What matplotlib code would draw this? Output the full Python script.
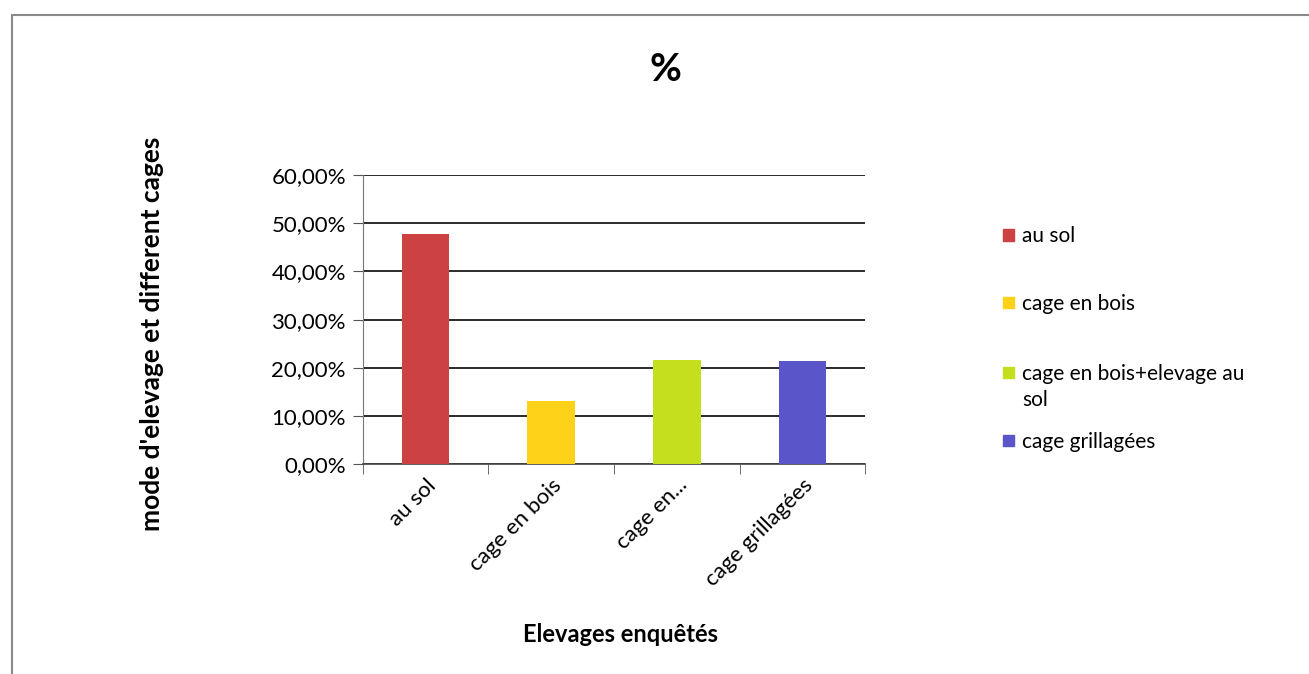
import matplotlib.pyplot as plt
from matplotlib.patches import Rectangle
from matplotlib.ticker import FuncFormatter

categories = ["au sol", "cage en bois", "cage en...", "cage grillagées"]
legend_labels = ["au sol", "cage en bois", "cage en bois+elevage au\nsol", "cage grillagées"]
values = [47.8, 13.0, 21.7, 21.5]
colors = ["#cc4242", "#ffd21a", "#c5df1f", "#5a55c8"]

plt.rcParams["font.family"] = ["Lato", "DejaVu Sans"]

fig = plt.figure(figsize=(13.09, 6.74), dpi=100)
ax = fig.add_axes([0.277, 0.3116, 0.384, 0.4284])

x = range(len(categories))
ax.bar(x, values, width=0.38, color=colors, zorder=3)

ax.set_xlim(-0.5, len(categories) - 0.5)
ax.set_ylim(0, 60)
ax.set_yticks(range(0, 61, 10))
ax.yaxis.set_major_formatter(FuncFormatter(lambda v, p: f"{v:.2f}%".replace(".", ",")))
ax.grid(axis="y", color="#1a1a1a", linewidth=1.3, zorder=0)

# category labels, ticks on boundaries
ax.set_xticks(list(x))
ax.set_xticklabels(categories, rotation=45, ha="right", rotation_mode="anchor", fontsize=16)
ax.tick_params(axis="x", length=0, pad=8)
ax.set_xticks([i - 0.5 for i in range(len(categories) + 1)], minor=True)
ax.tick_params(axis="x", which="minor", length=7, color="#555555", direction="out")
ax.tick_params(axis="y", length=7, color="#555555", labelsize=16, pad=5)

for side in ["top", "right"]:
    ax.spines[side].set_visible(False)
ax.spines["left"].set_color("#777777")
ax.spines["bottom"].set_color("#444444")
ax.spines["bottom"].set_linewidth(1.2)

fig.text(0.474, 0.058, "Elevages enquêtés", ha="center", va="center",
         fontsize=17, fontweight="bold")
fig.text(0.116, 0.505, "mode d'elevage et different cages", rotation=90,
         ha="center", va="center", fontsize=19, fontweight="bold")
fig.text(0.508, 0.897, "%", ha="center", va="center", fontsize=28, fontweight="bold")

# legend drawn by hand to match spacing
legend_y = [0.651, 0.551, 0.447, 0.346]
for lab, col, ly in zip(legend_labels, colors, legend_y):
    fig.patches.append(Rectangle((0.766, ly - 0.008), 0.0085, 0.0165, transform=fig.transFigure,
                                 color=col))
    fig.text(0.781, ly + 0.0135, lab, ha="left", va="top", fontsize=15, linespacing=1.4)

# outer frame of the chart
fig.patches.append(Rectangle((0.009, -0.02), 1.0, 0.998, transform=fig.transFigure,
                             fill=False, edgecolor="#8a8a8a", linewidth=1.5))

fig.savefig("out.png", dpi=100)
